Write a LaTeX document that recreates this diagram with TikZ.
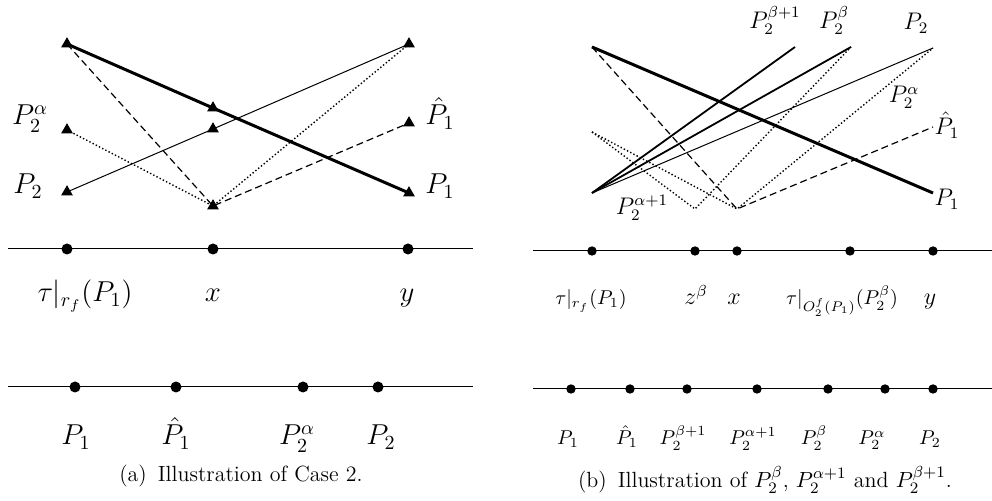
\documentclass[tikz,border=0pt]{standalone}
\usetikzlibrary{shapes.geometric}
\tikzset{
  every picture/.style={line width=0.5pt},
  tri/.style={regular polygon, regular polygon sides=3, fill, inner sep=0pt, minimum size=6.8pt},
  dot/.style={circle, fill, inner sep=0pt, minimum size=#1},
  dot/.default=5.5pt,
  heavy/.style={line width=1.5pt},
  medium/.style={line width=0.9pt},
  dashline/.style={line width=0.6pt, dash pattern=on 3.5pt off 2pt},
  dotline/.style={line width=0.7pt, dash pattern=on 0.7pt off 1.1pt},
  lbl/.style={anchor=base, font=#1},
  lbl/.default=\Large,
  caption/.style={anchor=base, font=\fontsize{11}{13}\selectfont},
}
\begin{document}
\begin{tikzpicture}[x=0.5pt, y=-0.5pt]
  \useasboundingbox (0,0) rectangle (992,501);
  % (a)
  \node[tri] (tl) at (67,44) {}; \node[tri] (tr) at (409,44) {};
  \node[tri] (pa) at (67,130) {}; \node[tri] (pt) at (67,192) {};
  \node[tri] (xa) at (213,108) {}; \node[tri] (xb) at (213,129) {}; \node[tri] (xc) at (213,206) {};
  \node[tri] (rh) at (409,123) {}; \node[tri] (ro) at (409,193) {};
  \draw[heavy] (tl.center) -- (xa.center) -- (ro.center);
  \draw (pt.center) -- (xb.center) -- (tr.center);
  \draw[dashline] (tl.center) -- (xc.center) -- (rh.center);
  \draw[dotline] (pa.center) -- (xc.center) -- (tr.center);
  \node[lbl] (lpa) at (30,125) {$P_2^\alpha$}; \node[lbl] (lpt) at (28,194) {$P_2$};
  \node[lbl] (lrh) at (440,125) {$\hat{P}_1$}; \node[lbl] (lro) at (440,194) {$P_1$};
  \coordinate (ua) at (8,249); \coordinate (ub) at (473,249); \draw (ua) -- (ub);
  \node[dot] (ut) at (67,249) {}; \node[dot] (ux) at (213,249) {}; \node[dot] (uy) at (408,249) {};
  \node[lbl] (lut) at (85,302) {$\tau|_{r_f}(P_1)$};
  \node[lbl] (lux) at (213,302) {$x$}; \node[lbl] (luy) at (407,302) {$y$};
  \coordinate (va) at (8,387); \coordinate (vb) at (473,387); \draw (va) -- (vb);
  \node[dot] (v1) at (75,387) {}; \node[dot] (v2) at (176,387) {};
  \node[dot] (v3) at (303,387) {}; \node[dot] (v4) at (378,387) {};
  \node[lbl] (lv1) at (76,445) {$P_1$}; \node[lbl] (lv2) at (176,445) {$\hat{P}_1$};
  \node[lbl] (lv3) at (297,445) {$P_2^\alpha$}; \node[lbl] (lv4) at (381,445) {$P_2$};
  \node[caption] (capa) at (241,482) {(a)\enspace Illustration of Case 2.};
  % (b)
  \coordinate (ba) at (592,47); \coordinate (bm) at (592,132); \coordinate (bl) at (592,193);
  \coordinate (bz) at (695,209); \coordinate (bx) at (737,209);
  \coordinate (bo) at (933,193); \coordinate (bh) at (933,127);
  \coordinate (bs) at (795,47); \coordinate (bb) at (851,47); \coordinate (bt) at (933,48);
  \draw[heavy] (ba) -- (bo);
  \draw[dashline] (ba) -- (bx) -- (bh);
  \draw[medium] (bl) -- (bs); \draw[medium] (bl) -- (bb); \draw (bl) -- (bt);
  \draw[dotline] (bm) -- (bz) -- (bb); \draw[dotline] (bm) -- (bx) -- (bt);
  \node[lbl=\large] (lbs) at (775,29) {$P_2^{\beta+1}$}; \node[lbl=\large] (lbb) at (834,29) {$P_2^\beta$};
  \node[lbl=\large] (lbt) at (916,30) {$P_2$}; \node[lbl=\large] (lba) at (904,103) {$P_2^\alpha$};
  \node[lbl=\large] (lbh) at (947,135) {$\hat{P}_1$}; \node[lbl=\large] (lbo) at (947,206) {$P_1$};
  \node[lbl=\large] (lbz) at (642,215) {$P_2^{\alpha+1}$};
  \coordinate (wa) at (533,251); \coordinate (wb) at (992,251); \draw (wa) -- (wb);
  \node[dot=4.7pt] (wt) at (592,251) {}; \node[dot=4.7pt] (wz) at (695,251) {};
  \node[dot=4.7pt] (wx) at (737,251) {}; \node[dot=4.7pt] (wo) at (850,251) {};
  \node[dot=4.7pt] (wy) at (933,251) {};
  \node[lbl=\normalsize] (lwt) at (591,305) {$\tau|_{r_f}(P_1)$};
  \node[lbl=\large] (lwz) at (696,305) {$z^\beta$}; \node[lbl=\large] (lwx) at (734,305) {$x$};
  \node[lbl=\normalsize] (lwo) at (842,305) {$\tau|_{O_2^f(P_1)}(P_2^\beta)$};
  \node[lbl=\large] (lwy) at (930,305) {$y$};
  \coordinate (za) at (533,389); \coordinate (zb) at (992,389); \draw (za) -- (zb);
  \node[dot=4.7pt] (z1) at (571,389) {}; \node[dot=4.7pt] (z2) at (630,389) {};
  \node[dot=4.7pt] (z3) at (687,389) {}; \node[dot=4.7pt] (z4) at (757,389) {};
  \node[dot=4.7pt] (z5) at (828,389) {}; \node[dot=4.7pt] (z6) at (885,389) {};
  \node[dot=4.7pt] (z7) at (933,389) {};
  \node[lbl=\normalsize] (lz1) at (568,445) {$P_1$}; \node[lbl=\normalsize] (lz2) at (627,445) {$\hat{P}_1$};
  \node[lbl=\normalsize] (lz3) at (683,445) {$P_2^{\beta+1}$}; \node[lbl=\normalsize] (lz4) at (753,445) {$P_2^{\alpha+1}$};
  \node[lbl=\normalsize] (lz5) at (814,445) {$P_2^\beta$}; \node[lbl=\normalsize] (lz6) at (872,445) {$P_2^\alpha$};
  \node[lbl=\normalsize] (lz7) at (930,445) {$P_2$};
  \node[caption] (capb) at (765,488) {(b)\enspace Illustration of $P_2^\beta$, $P_2^{\alpha+1}$ and $P_2^{\beta+1}$.};
\end{tikzpicture}
\end{document}
